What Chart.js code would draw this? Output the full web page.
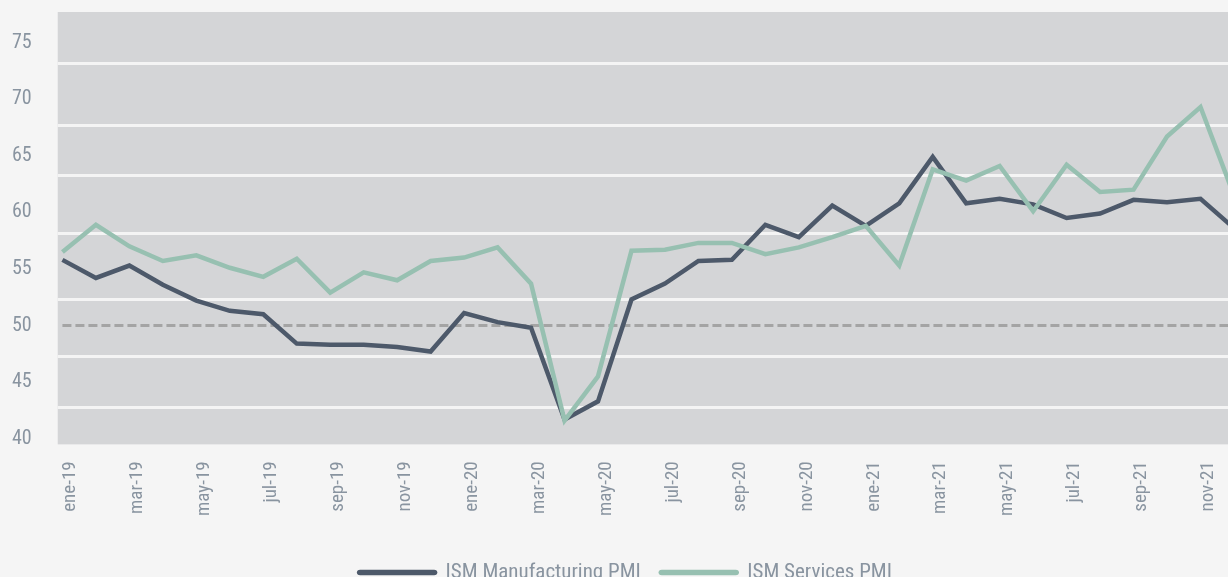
<!DOCTYPE html>
<html>
<head>
<meta charset="utf-8">
<script src="https://cdn.jsdelivr.net/npm/chart.js@4.4.1/dist/chart.umd.min.js"></script>
<style>
  html, body { margin: 0; padding: 0; background: #f5f5f5; overflow: hidden; }
  #wrap { position: relative; width: 1239px; height: 593px; }
</style>
</head>
<body>
<div id="wrap"><canvas id="pmiChart"></canvas></div>
<script>
const months = [
  'ene-19', 'feb-19', 'mar-19', 'abr-19', 'may-19', 'jun-19', 'jul-19', 'ago-19', 'sep-19', 'oct-19', 'nov-19', 'dic-19',
  'ene-20', 'feb-20', 'mar-20', 'abr-20', 'may-20', 'jun-20', 'jul-20', 'ago-20', 'sep-20', 'oct-20', 'nov-20', 'dic-20',
  'ene-21', 'feb-21', 'mar-21', 'abr-21', 'may-21', 'jun-21', 'jul-21', 'ago-21', 'sep-21', 'oct-21', 'nov-21', 'dic-21'
];
const manufacturing = [
  55.8, 54.2, 55.3, 53.6, 52.2, 51.3, 51.0, 48.4, 48.3, 48.3, 48.1, 47.7,
  51.1, 50.3, 49.8, 41.7, 43.3, 52.3, 53.7, 55.7, 55.8, 58.9, 57.8, 60.6,
  58.8, 60.8, 64.9, 60.8, 61.2, 60.7, 59.5, 59.9, 61.1, 60.9, 61.2, 58.6
];
const services = [
  56.5, 58.9, 57.0, 55.7, 56.2, 55.1, 54.3, 55.9, 52.9, 54.7, 54.0, 55.7,
  56.0, 56.9, 53.7, 41.6, 45.5, 56.6, 56.7, 57.3, 57.3, 56.3, 56.9, 57.8,
  58.8, 55.3, 63.8, 62.8, 64.1, 60.1, 64.2, 61.8, 62.0, 66.7, 69.3, 61.5
];
const threshold = 50;
const yTicks = [40, 45, 50, 55, 60, 65, 70, 75];
const bandLines = [42.79, 47.29, 52.28, 58.10, 63.21, 67.67, 73.11];

const tickColor = '#8994a0';
const fontFamily = "'Roboto Condensed', 'Liberation Sans Narrow', 'DejaVu Sans Condensed', Roboto, sans-serif";

const toPoints = arr => arr.map((v, i) => ({ x: i, y: v }));

// grey plot panel behind the lines
const plotBackground = {
  id: 'plotBackground',
  beforeDraw(chart) {
    const { ctx, chartArea } = chart;
    ctx.save();
    ctx.fillStyle = '#d4d5d7';
    ctx.fillRect(chartArea.left, chartArea.top, chartArea.right - chartArea.left, chartArea.bottom - chartArea.top);
    ctx.restore();
  }
};

new Chart(document.getElementById('pmiChart'), {
  type: 'line',
  data: {
    datasets: [
      {
        label: 'ISM Manufacturing PMI',
        data: toPoints(manufacturing),
        borderColor: '#4d596a',
        backgroundColor: '#4d596a',
        borderWidth: 4.5,
        pointRadius: 0,
        tension: 0,
        order: 1
      },
      {
        label: 'ISM Services PMI',
        data: toPoints(services),
        borderColor: '#97c0b1',
        backgroundColor: '#97c0b1',
        borderWidth: 4.5,
        pointRadius: 0,
        tension: 0,
        order: 0
      },
      {
        label: 'threshold',
        data: toPoints(months.map(() => threshold)),
        borderColor: '#a4a4a4',
        borderWidth: 3,
        borderDash: [9, 4],
        pointRadius: 0,
        order: 2
      }
    ]
  },
  options: {
    responsive: true,
    maintainAspectRatio: false,
    animation: false,
    layout: { padding: { top: 12, left: 12, right: 0, bottom: 0 } },
    scales: {
      x: {
        type: 'linear',
        min: -0.14,
        max: 35.15,
        grid: { display: true, drawOnChartArea: false, drawTicks: true, tickLength: 17, tickColor: 'rgba(0,0,0,0)' },
        border: { display: false },
        afterBuildTicks: axis => {
          axis.ticks = months.map((m, i) => i).filter(i => i % 2 === 0).map(i => ({ value: i }));
        },
        afterFit: axis => { axis.height += 26; },
        ticks: {
          minRotation: 90,
          maxRotation: 90,
          padding: 0,
          labelOffset: 8,
          color: tickColor,
          font: { family: fontFamily, size: 19 },
          callback: v => months[v]
        }
      },
      y: {
        min: 39.5,
        max: 77.7,
        grid: { display: false, drawTicks: false },
        border: { display: false },
        afterBuildTicks: axis => {
          axis.ticks = yTicks.map(v => ({ value: v }));
        },
        afterFit: axis => { axis.width += 26; },
        ticks: {
          padding: 0,
          crossAlign: 'far',
          color: tickColor,
          font: { family: fontFamily, size: 20 }
        }
      },
      yg: {
        position: 'right',
        min: 39.5,
        max: 77.7,
        afterBuildTicks: axis => {
          axis.ticks = bandLines.map(v => ({ value: v }));
        },
        grid: { color: '#f4f4f4', lineWidth: 3, drawTicks: false },
        border: { display: false },
        ticks: { display: false }
      }
    },
    plugins: {
      legend: {
        position: 'bottom',
        labels: {
          filter: item => item.datasetIndex < 2,
          sort: (a, b) => a.datasetIndex - b.datasetIndex,
          boxWidth: 76,
          boxHeight: 1,
          useBorderRadius: true,
          borderRadius: 1,
          padding: 20,
          color: tickColor,
          font: { family: fontFamily, size: 21 }
        }
      },
      tooltip: { enabled: false }
    }
  },
  plugins: [plotBackground]
});
</script>
</body>
</html>
